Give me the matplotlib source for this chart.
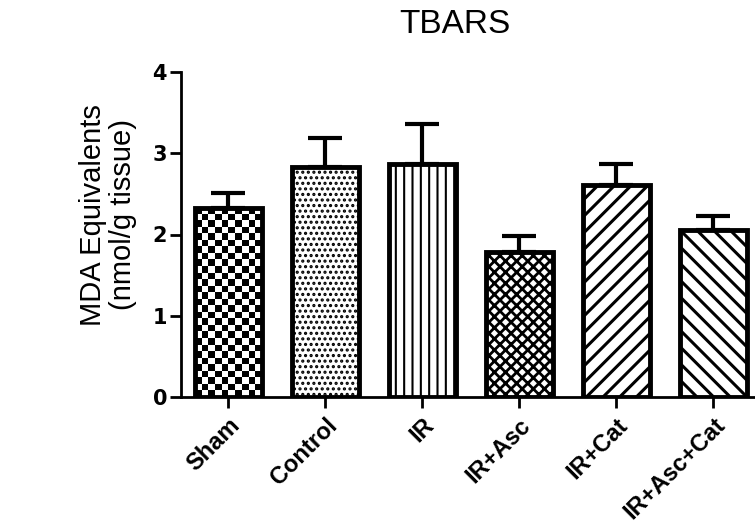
import matplotlib
matplotlib.use('Agg')
import matplotlib.pyplot as plt
import numpy as np

groups = ['Sham', 'Control', 'IR', 'IR+Asc', 'IR+Cat', 'IR+Asc+Cat']
means = [2.33, 2.83, 2.87, 1.78, 2.61, 2.05]
sems = [0.18, 0.36, 0.49, 0.20, 0.26, 0.18]
hatches = [None, '...', '||', 'xxx', '//', '\\\\']
hatch_lw = [1.5, 1.5, 1.5, 2.0, 2.2, 2.2]

plt.rcParams['font.family'] = ['Liberation Sans', 'DejaVu Sans']

fig = plt.figure(figsize=(7.55, 5.29), dpi=100)
ax = fig.add_axes([181 / 755, 1 - 397 / 529, (755 - 181) / 755, (397 - 72) / 529])

x = np.arange(len(groups))
ax.set_xlim(-0.485, 5.43)
ax.set_ylim(0, 4)

ax.errorbar(x, means, yerr=[np.zeros(len(means)), sems], fmt='none', ecolor='black',
            elinewidth=3, capsize=12, capthick=3, zorder=1)

bars = []
for i in range(len(groups)):
    plt.rcParams['hatch.linewidth'] = hatch_lw[i]
    fc = 'none' if hatches[i] is None else 'white'
    b = ax.bar(x[i], means[i], width=0.69, color=fc, edgecolor='black', linewidth=3.5,
               hatch=hatches[i], zorder=3)
    bars.append(b[0])

# checkerboard for Sham (no built-in hatch for it)
p = bars[0]
x0, w, h = p.get_x(), p.get_width(), p.get_height()
c0 = ax.transData.transform((x0, 0))
c1 = ax.transData.transform((x0 + w, h))
sq = 6.5
nc = int(round((c1[0] - c0[0]) / sq))
nr = int(round((c1[1] - c0[1]) / sq))
board = (np.add.outer(np.arange(nr), np.arange(nc)) % 2).astype(float)
im = ax.imshow(board, cmap='gray', extent=(x0, x0 + w, 0, h), interpolation='nearest',
               aspect='auto', zorder=2)
im.set_clip_path(p)

for s in ['top', 'right']:
    ax.spines[s].set_visible(False)
for s in ['left', 'bottom']:
    ax.spines[s].set_linewidth(2)

ax.set_yticks([0, 1, 2, 3, 4])
ax.set_xticks(x)
ax.set_xticklabels(groups, rotation=45, ha='right', rotation_mode='anchor')
ax.tick_params(axis='both', direction='out', length=8, width=2)
ax.tick_params(axis='y', labelsize=15, pad=2)
ax.tick_params(axis='x', labelsize=17, pad=4)
for lab in ax.get_yticklabels():
    lab.set_fontweight('bold')
    lab.set_family(['DejaVu Sans'])
for lab in ax.get_xticklabels():
    lab.set_fontweight('bold')

ax.set_title('TBARS', fontsize=24, x=0.477, pad=28)
fig.text(108 / 755, 1 - 215 / 529, 'MDA Equivalents\n(nmol/g tissue)', rotation=90,
         ha='center', va='center', fontsize=21, linespacing=1.1)

fig.savefig('out.png', dpi=100)
